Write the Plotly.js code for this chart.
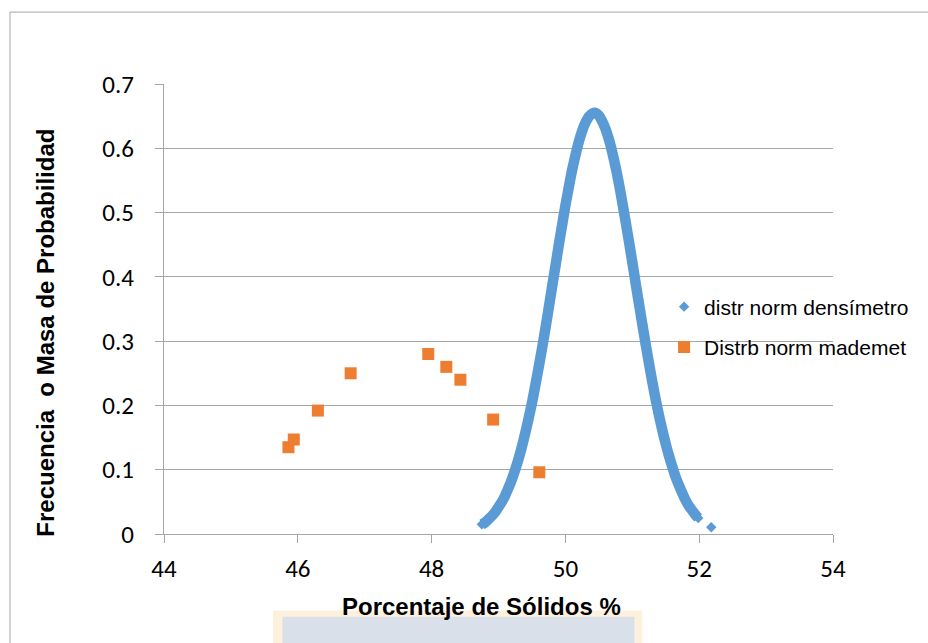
<!DOCTYPE html>
<html>
<head>
<meta charset="utf-8">
<script src="https://cdn.plot.ly/plotly-3.0.1.min.js"></script>
<style>
html,body{margin:0;padding:0;background:#fff;}
#chart{width:928px;height:643px;}
</style>
</head>
<body>
<div id="chart"></div>
<script>
// Serie "distr norm densímetro"
var densX = [48.75,48.80,48.85,48.90,48.95,49.00,49.05,49.10,49.15,49.20,49.25,49.30,49.35,49.40,49.45,49.50,49.55,49.60,49.65,49.70,49.75,49.80,49.85,49.90,49.95,50.00,50.05,50.10,50.15,50.20,50.25,50.30,50.35,50.40,50.45,50.50,50.55,50.60,50.65,50.70,50.75,50.80,50.85,50.90,50.95,51.00,51.05,51.10,51.15,51.20,51.25,51.30,51.35,51.40,51.45,51.50,51.55,51.60,51.65,51.70,51.75,51.80,51.85,51.90,51.95,51.985,52.18];
var densY = [0.015,0.018,0.023,0.028,0.034,0.042,0.050,0.060,0.072,0.085,0.100,0.117,0.136,0.157,0.180,0.204,0.231,0.259,0.288,0.319,0.351,0.384,0.416,0.449,0.480,0.511,0.539,0.566,0.589,0.610,0.627,0.640,0.649,0.654,0.655,0.651,0.642,0.630,0.614,0.594,0.571,0.545,0.516,0.486,0.455,0.423,0.390,0.358,0.326,0.295,0.265,0.236,0.209,0.184,0.161,0.140,0.121,0.104,0.088,0.075,0.063,0.052,0.043,0.036,0.029,0.025,0.0105];
// Serie "Distrb norm mademet"
var madeX = [45.86,45.94,46.30,46.79,47.95,48.22,48.43,48.92,49.61];
var madeY = [0.135,0.147,0.192,0.250,0.280,0.260,0.240,0.178,0.096];

var seriesNames = ["distr norm densímetro","Distrb norm mademet"];
var xTitle = "Porcentaje de Sólidos %";
var yTitle = "Frecuencia\u00a0 o Masa de Probabilidad";
var xTicks = [44,46,48,50,52,54];
var yTicks = [0,0.1,0.2,0.3,0.4,0.5,0.6,0.7];

var blue = "#5B9BD5", orange = "#ED7D31", grid = "#a6a6a6";

// the continuous part of the dense curve (all but the isolated last point)
var curveN = densX.length - 1;

var traces = [
  {x: densX.slice(0, curveN), y: densY.slice(0, curveN), type: "scatter", mode: "lines",
   line: {color: blue, width: 10.5, shape: "spline"}, showlegend: false, hoverinfo: "skip"},
  {x: densX, y: densY, type: "scatter", mode: "markers", name: seriesNames[0], legendgroup: "a",
   marker: {symbol: "diamond", size: 8, color: blue}},
  {x: madeX, y: madeY, type: "scatter", mode: "markers", name: seriesNames[1], legendgroup: "b",
   marker: {symbol: "square", size: 12, color: orange}}
];

var tickFont = {family: "Carlito, Lato, 'Open Sans', sans-serif", size: 25, color: "#000"};
var titleFont = {family: "Arial, 'Liberation Sans', sans-serif", size: 24, color: "#000", weight: "bold"};

var layout = {
  width: 928, height: 643,
  margin: {l: 164, r: 95, t: 84, b: 109, pad: 0},
  paper_bgcolor: "#fff", plot_bgcolor: "#fff",
  showlegend: true,
  legend: {x: 0.7475, xanchor: "left", y: 0.46, yanchor: "middle",
    font: {family: "Arial, 'Liberation Sans', sans-serif", size: 21, color: "#000"},
    bgcolor: "rgba(0,0,0,0)", traceorder: "grouped", tracegroupgap: 10, itemwidth: 30},
  xaxis: {range: [44, 54], tickvals: xTicks, ticktext: xTicks.map(String), showgrid: false,
    showline: true, linecolor: grid, linewidth: 1, ticks: "outside", ticklen: 8, tickcolor: grid,
    zeroline: false, tickfont: tickFont, ticklabelstandoff: 4},
  yaxis: {range: [0, 0.7], tickvals: yTicks, ticktext: yTicks.map(String), showgrid: true, gridcolor: grid,
    gridwidth: 1, showline: true, linecolor: grid, linewidth: 1, ticks: "outside", ticklen: 8,
    tickcolor: grid, zeroline: false, tickfont: tickFont, ticklabelstandoff: 16},
  annotations: [
    {text: xTitle, xref: "paper", yref: "paper", x: 0.4753, y: -0.1616, xanchor: "center", yanchor: "middle",
     showarrow: false, font: titleFont},
    {text: yTitle, xref: "paper", yref: "paper", x: -0.1764, y: 0.4473, xanchor: "center", yanchor: "middle",
     textangle: -90, showarrow: false, font: titleFont}
  ],
  shapes: [
    {type: "line", xref: "paper", yref: "paper", x0: -0.2302, x1: 1.25, y0: 1.1598, y1: 1.1598,
     line: {color: "#a6a6a6", width: 1}, layer: "below"},
    {type: "line", xref: "paper", yref: "paper", x0: -0.2302, x1: -0.2302, y0: -0.5, y1: 1.1598,
     line: {color: "#a6a6a6", width: 1}, layer: "below"},
    {type: "rect", xref: "paper", yref: "paper", x0: 0.163, x1: 0.715, y0: -0.262, y1: -0.17,
     line: {width: 0}, fillcolor: "#fdf1de", layer: "below"},
    {type: "rect", xref: "paper", yref: "paper", x0: 0.177, x1: 0.703, y0: -0.262, y1: -0.184,
     line: {width: 0}, fillcolor: "#d9e0e9", layer: "below"}
  ]
};

Plotly.newPlot("chart", traces, layout, {displayModeBar: false, staticPlot: true});
</script>
</body>
</html>
